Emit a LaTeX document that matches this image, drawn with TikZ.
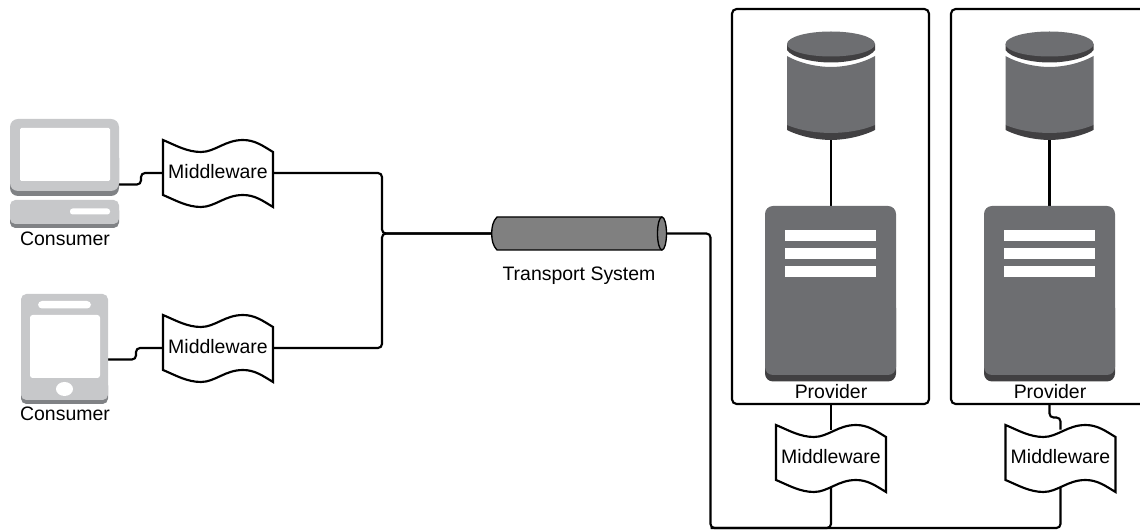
\documentclass[tikz,border=0pt]{standalone}
\usepackage{fontspec}
\setmainfont{Liberation Sans}
\pgfdeclarelayer{back}
\pgfsetlayers{back,main}
\definecolor{iconlight}{HTML}{C7C8CA}
\definecolor{iconshade}{HTML}{808285}
\definecolor{icondark}{HTML}{6D6E71}
\definecolor{icondeep}{HTML}{414042}
\definecolor{pipegray}{HTML}{808080}
\tikzset{
  conn/.style={draw=black,line width=1.6pt,rounded corners=3pt},
  framebox/.style={draw=black,line width=1.6pt,rounded corners=3.5pt},
  wave/.style={draw=black,fill=white,line width=1.6pt,line join=miter},
  mwnode/.style={minimum width=82.5pt,minimum height=42pt,inner sep=0pt,text depth=2.6pt,font=\fontsize{14.6pt}{16pt}\selectfont},
  lab/.style={inner sep=0pt,font=\fontsize{14.6pt}{16pt}\selectfont},
  anchorbox/.style={inner sep=0pt,outer sep=0pt},
}
% wave outline: centre x, top-left y
\newcommand{\mwave}[2]{%
  \begin{scope}[shift={(#1-55,#2)}]
    \path[wave] (0,0) .. controls (12,5) and (24,12) .. (38,12)
      .. controls (52,12) and (62,0) .. (80,0)
      .. controls (92,0) and (100,6) .. (110,12) -- (110,67)
      .. controls (100,61) and (92,55) .. (80,55)
      .. controls (62,55) and (52,67) .. (38,67)
      .. controls (24,67) and (12,60) .. (0,55) -- cycle;
  \end{scope}}
\newcommand{\dbicon}[1]{%
  \begin{scope}[shift={(#1,0)}]
    \fill[icondeep] (-44,125) -- (-44,130) .. controls (-30,137) and (-12,140) .. (0,140) .. controls (12,140) and (30,137) .. (44,130) -- (44,125) -- cycle;
    \fill[icondark] (-44,56) .. controls (-30,64) and (-12,67) .. (0,67) .. controls (12,67) and (30,64) .. (44,56) -- (44,125) .. controls (30,131) and (12,133) .. (0,133) .. controls (-12,133) and (-30,131) .. (-44,125) -- cycle;
    \fill[icondeep] (-44,44) -- (-44,50) .. controls (-40,57) and (-20,62.5) .. (0,62.5) .. controls (20,62.5) and (40,57) .. (44,50) -- (44,44) -- cycle;
    \fill[icondark] (0,44) ellipse [x radius=44,y radius=12.5];
  \end{scope}}
\newcommand{\srvicon}[1]{%
  \begin{scope}[shift={(#1,0)}]
    \fill[icondeep,rounded corners=6pt] (-65.5,300) rectangle (65.5,381.5);
    \fill[icondark,rounded corners=6pt] (-65.5,206) rectangle (65.5,375);
    \fill[white] (-45.5,230.5) rectangle (45,241);
    \fill[white] (-45.5,248.5) rectangle (45,259);
    \fill[white] (-45.5,266.5) rectangle (45,277);
  \end{scope}}
\begin{document}
\begin{tikzpicture}[x=0.75pt,y=-0.75pt]
\useasboundingbox (0,0) rectangle (1140,530);
% provider frames
\node[anchorbox,framebox,minimum width=147.75pt,minimum height=296.25pt] (prov1) at (830.5,206.5) {};
\node[anchorbox,framebox,minimum width=147.75pt,minimum height=296.25pt] (prov2) at (1049.5,206.5) {};
% desktop icon
\fill[iconshade,rounded corners=6pt] (10,150) rectangle (119,196);
\fill[iconlight,rounded corners=6pt] (10,119) rectangle (119,191);
\fill[white,rounded corners=1pt] (20,128) rectangle (110,181);
\fill[iconshade,rounded corners=4pt] (10,205) rectangle (119,228);
\fill[iconlight,rounded corners=4pt] (10,200) rectangle (119,224);
\fill[white,rounded corners=2pt] (70,208.5) rectangle (110,214.5);
\coordinate (pcport) at (117,184.5);
\node[lab] (cons1) at (65,238.8) {Consumer};
% phone icon
\fill[iconshade,rounded corners=4pt] (21,380) rectangle (108,404);
\fill[iconlight,rounded corners=4pt] (21,294) rectangle (108,400);
\fill[white,rounded corners=3pt] (38,301) rectangle (91,308.5);
\fill[white,rounded corners=2pt] (30,315) rectangle (100,378);
\fill[white] (64.5,389) ellipse [x radius=8.5,y radius=7];
\coordinate (phoneport) at (108,359.5);
\node[lab] (cons2) at (65,413.8) {Consumer};
% middleware
\mwave{218}{140}
\node[mwnode] (mw1) at (218,173) {Middleware};
\mwave{218}{315}
\node[mwnode] (mw2) at (218,348) {Middleware};
\mwave{831}{425}
\node[mwnode] (mw3) at (831,458) {Middleware};
\mwave{1060.5}{425}
\node[mwnode] (mw4) at (1060.5,458) {Middleware};
% pipe
\node[anchorbox,minimum width=130.5pt,minimum height=24.75pt] (pipe) at (579,233.5) {};
\path[draw=black,fill=pipegray,line width=1pt] (662,217) -- (497,217) .. controls (493,221) and (491.7,227) .. (491.7,233.5) .. controls (491.7,240) and (493,246) .. (497,250) -- (662,250);
\path[draw=black,fill=pipegray,line width=1pt] (662,233.5) ellipse [x radius=4.5,y radius=16.5];
\node[lab] (ts) at (579,275.8) {Transport System};
% storage and servers
\dbicon{831}
\dbicon{1049.5}
\srvicon{830.5}
\srvicon{1049.5}
\node[anchorbox,minimum width=66pt,minimum height=30pt] (db1) at (831,100) {};
\node[anchorbox,minimum width=66pt,minimum height=30pt] (db2) at (1049.5,100) {};
\node[anchorbox,minimum width=98pt,minimum height=132pt] (srv1) at (831,294) {};
\node[anchorbox,minimum width=98pt,minimum height=132pt] (srv2) at (1049.5,294) {};
\node[lab] (p1) at (831,391.8) {Provider};
\node[lab] (p2) at (1050,391.8) {Provider};
% connectors
\coordinate (joint) at (382,233.5);
\coordinate (busL) at (710.5,528);
\coordinate (busM) at (831,528);
\coordinate (busR) at (1060.5,528);
\coordinate (stepA) at (1049.5,417.5);
\begin{pgfonlayer}{back}
\draw[conn] (pcport) -| (141,173) -- (mw1.west);
\draw[conn] (phoneport) -| (136,348) -- (mw2.west);
\draw[conn] (mw1.east) -| (joint) -- (pipe.west);
\draw[conn] (mw2.east) -| (joint) -- (pipe.west);
\draw[conn] (pipe.east) -| (busL) -- (busM) -- (mw3.south);
\draw[conn] (busL) -- (busR) -- (mw4.south);
\draw[conn] (prov1.south -| mw3) -- (mw3.north);
\draw[conn] (prov2.south) -- (stepA) -| (mw4.north);
\draw[line width=1.6pt] (db1.south) -- (srv1.north);
\draw[line width=1.6pt] (db2.south) -- (srv2.north);
\end{pgfonlayer}
\end{tikzpicture}
\end{document}
